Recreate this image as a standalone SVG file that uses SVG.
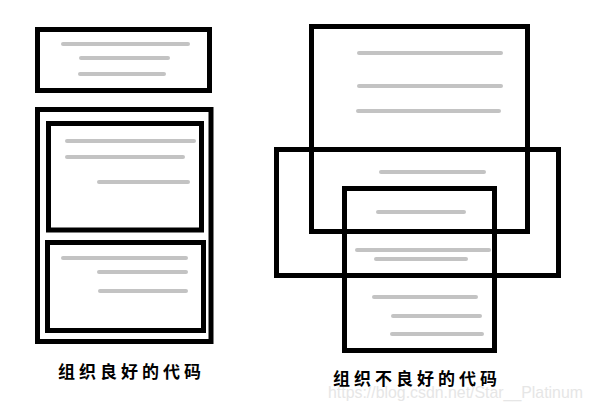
<svg xmlns="http://www.w3.org/2000/svg" width="592" height="408" viewBox="0 0 592 408">
<style>
.box{fill:none;stroke:#000;stroke-width:5}
.ln{stroke:#c3c3c3;stroke-width:4;stroke-linecap:round}
.cap{font-family:"Noto Sans CJK SC","Noto Sans CJK JP",sans-serif;font-size:17px;font-weight:600;fill:#000;letter-spacing:4px}
.wm{font-family:"Liberation Sans",Arial,sans-serif;font-size:17px;fill:#e6e6e6}
</style>
<rect width="592" height="408" fill="#fff"/>
<g id="good-top">
<rect class="box" x="37.5" y="29.5" width="172" height="61"/>
<line class="ln" x1="63" y1="44" x2="188" y2="44"/>
<line class="ln" x1="81" y1="58" x2="168" y2="58"/>
<line class="ln" x1="80" y1="74" x2="164" y2="74"/>
</g>
<g id="good-outer">
<rect class="box" x="37.5" y="109.5" width="173.5" height="232"/>
</g>
<g id="good-inner1">
<rect class="box" x="48.5" y="123.5" width="153" height="106.5"/>
<line class="ln" x1="67" y1="141" x2="194" y2="141"/>
<line class="ln" x1="67" y1="157" x2="183" y2="157"/>
<line class="ln" x1="99" y1="182" x2="188" y2="182"/>
</g>
<g id="good-inner2">
<rect class="box" x="47.5" y="242.5" width="156" height="88"/>
<line class="ln" x1="63" y1="258" x2="186" y2="258"/>
<line class="ln" x1="99" y1="272" x2="186" y2="272"/>
<line class="ln" x1="100" y1="291" x2="186" y2="291"/>
</g>
<g id="bad-top">
<rect class="box" x="311.5" y="26.5" width="216" height="205"/>
<line class="ln" x1="359" y1="53" x2="501" y2="53"/>
<line class="ln" x1="359" y1="86" x2="501" y2="86"/>
<line class="ln" x1="358" y1="111" x2="499" y2="111"/>
</g>
<g id="bad-middle">
<rect class="box" x="276.5" y="149.5" width="282" height="126"/>
<line class="ln" x1="381" y1="172" x2="484" y2="172"/>
<line class="ln" x1="357" y1="250" x2="489" y2="250"/>
<line class="ln" x1="376" y1="259" x2="466" y2="259"/>
</g>
<g id="bad-bottom">
<rect class="box" x="344.5" y="188.5" width="150" height="162"/>
<line class="ln" x1="378" y1="212" x2="464" y2="212"/>
<line class="ln" x1="374" y1="297" x2="476" y2="297"/>
<line class="ln" x1="393" y1="316" x2="480" y2="316"/>
<line class="ln" x1="392" y1="334" x2="482" y2="334"/>
</g>
<g id="connectors"></g>
<text class="cap" x="58" y="378">组织良好的代码</text>
<text class="cap" x="333" y="385" letter-spacing="3.6">组织不良好的代码</text>
<text class="wm" x="328" y="398" textLength="255" lengthAdjust="spacingAndGlyphs">https://blog.csdn.net/Star__Platinum</text>
</svg>
